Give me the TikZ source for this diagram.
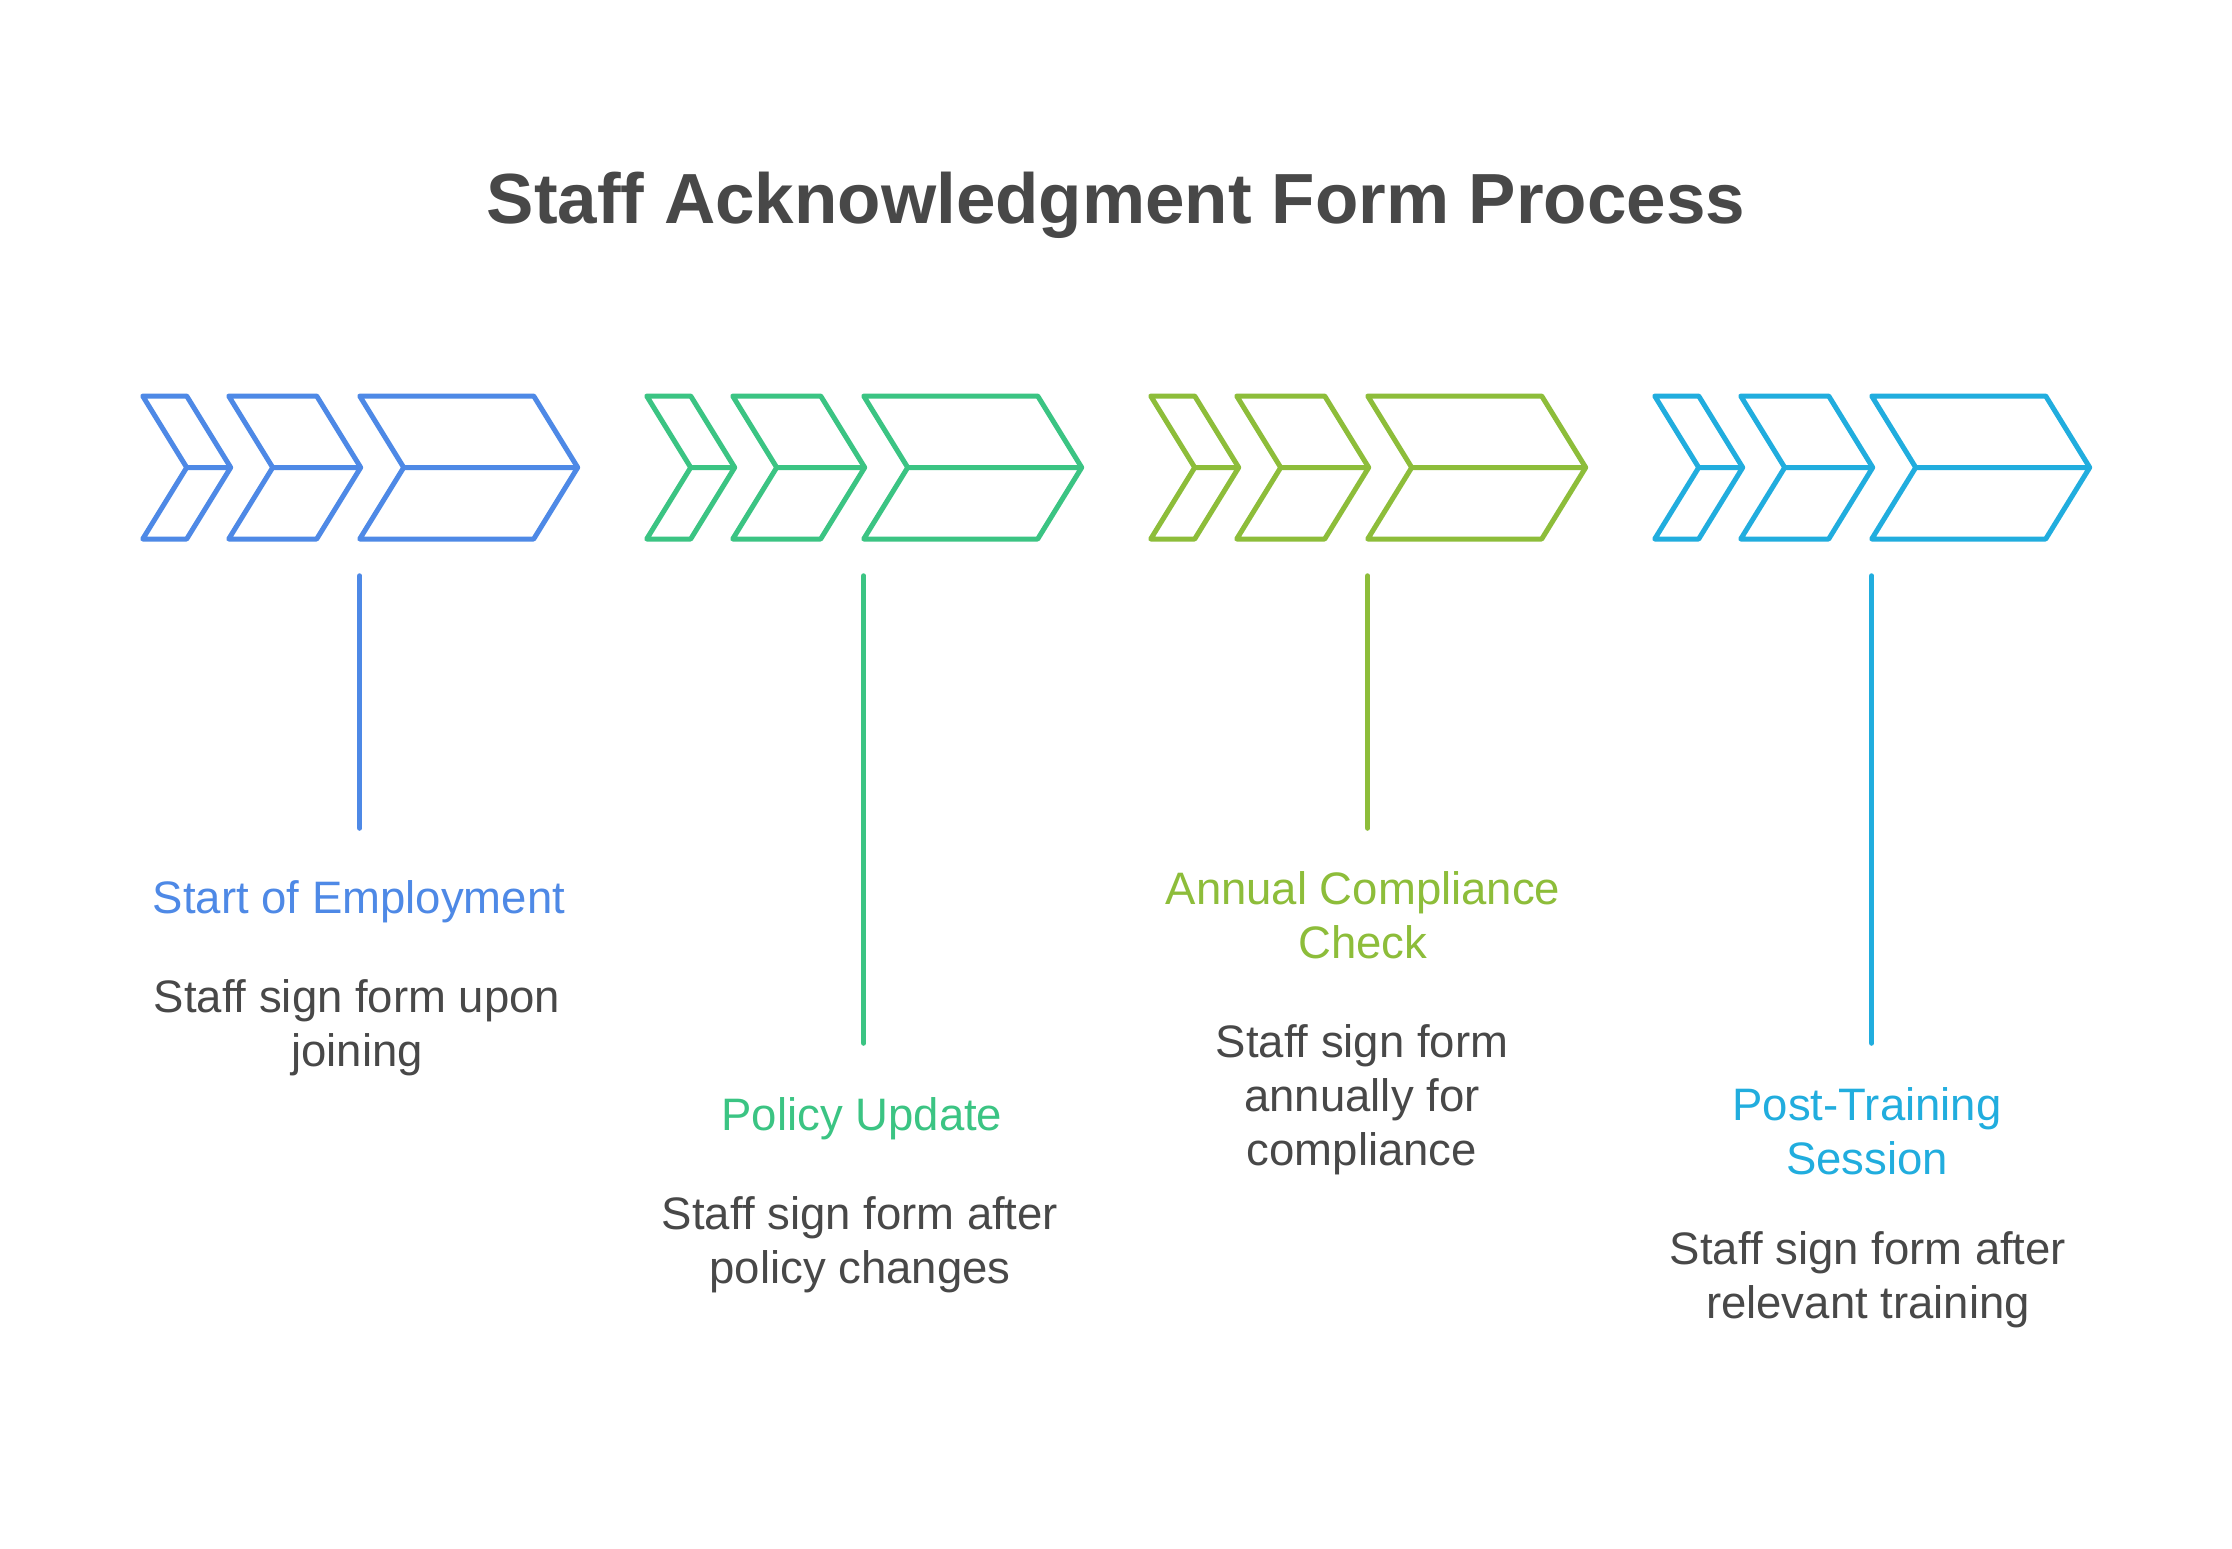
\documentclass[tikz,border=0pt]{standalone}
\usepackage{fontspec}
\setmainfont{Liberation Sans}
\definecolor{cblue}{HTML}{4E89E6}
\definecolor{cgreen}{HTML}{3BC483}
\definecolor{clime}{HTML}{8DBD3A}
\definecolor{ccyan}{HTML}{21ADDE}
\definecolor{tgray}{HTML}{484848}
\tikzset{
  chevline/.style={draw=#1, line width=5pt, line join=round, line cap=round},
  vline/.style={draw=#1, line width=5.5pt, line cap=round},
  headtext/.style={text=#1, font=\fontsize{45.5}{54}\selectfont, align=center, inner sep=0pt, anchor=base},
  desctext/.style={text=tgray, font=\fontsize{45.5}{54}\selectfont, align=center, inner sep=0pt, anchor=base},
  titletext/.style={text=tgray, font=\fontsize{71}{80}\selectfont\bfseries, inner sep=0pt, anchor=base}
}
\begin{document}
\begin{tikzpicture}[x=1pt,y=-1pt]
\path[use as bounding box, fill=white] (0,0) rectangle (2232,1548);
\node[titletext] (title) at (1116,223) {Staff Acknowledgment Form Process};
% chevron groups
\foreach \L/\c in {142.7/cblue, 646.7/cgreen, 1150.7/clime, 1654.7/ccyan}{
  \foreach \o/\w in {0/44, 86/88, 217/174}{
    \draw[chevline=\c] ({\L+\o},396) -- ({\L+\o+\w},396) -- ({\L+\o+\w+44},467.5)
      -- ({\L+\o+\w},539) -- ({\L+\o},539) -- ({\L+\o+44},467.5) -- cycle
      ({\L+\o+44},467.5) -- ({\L+\o+\w+44},467.5);
  }
}
% vertical connectors
\coordinate (a1) at (359.7,576); \coordinate (b1) at (359.7,828);
\coordinate (a2) at (863.7,576); \coordinate (b2) at (863.7,1043);
\coordinate (a3) at (1367.7,576); \coordinate (b3) at (1367.7,828);
\coordinate (a4) at (1871.7,576); \coordinate (b4) at (1871.7,1043);
\draw[vline=cblue] (a1) -- (b1);
\draw[vline=cgreen] (a2) -- (b2);
\draw[vline=clime] (a3) -- (b3);
\draw[vline=ccyan] (a4) -- (b4);
% texts (base anchor = baseline of last line)
\node[headtext=cblue] (h1) at (359,913) {Start of Employment};
\node[desctext] (d1) at (357,1066) {Staff sign form upon\\joining};
\node[headtext=cgreen] (h2) at (862,1130) {Policy Update};
\node[desctext] (d2) at (860,1283) {Staff sign form after\\policy changes};
\node[headtext=clime] (h3) at (1363,958) {Annual Compliance\\Check};
\node[desctext] (d3) at (1362,1165) {Staff sign form\\annually for\\compliance};
\node[headtext=ccyan] (h4) at (1867,1174) {Post-Training\\Session};
\node[desctext] (d4) at (1868,1318) {Staff sign form after\\relevant training};
\end{tikzpicture}
\end{document}
